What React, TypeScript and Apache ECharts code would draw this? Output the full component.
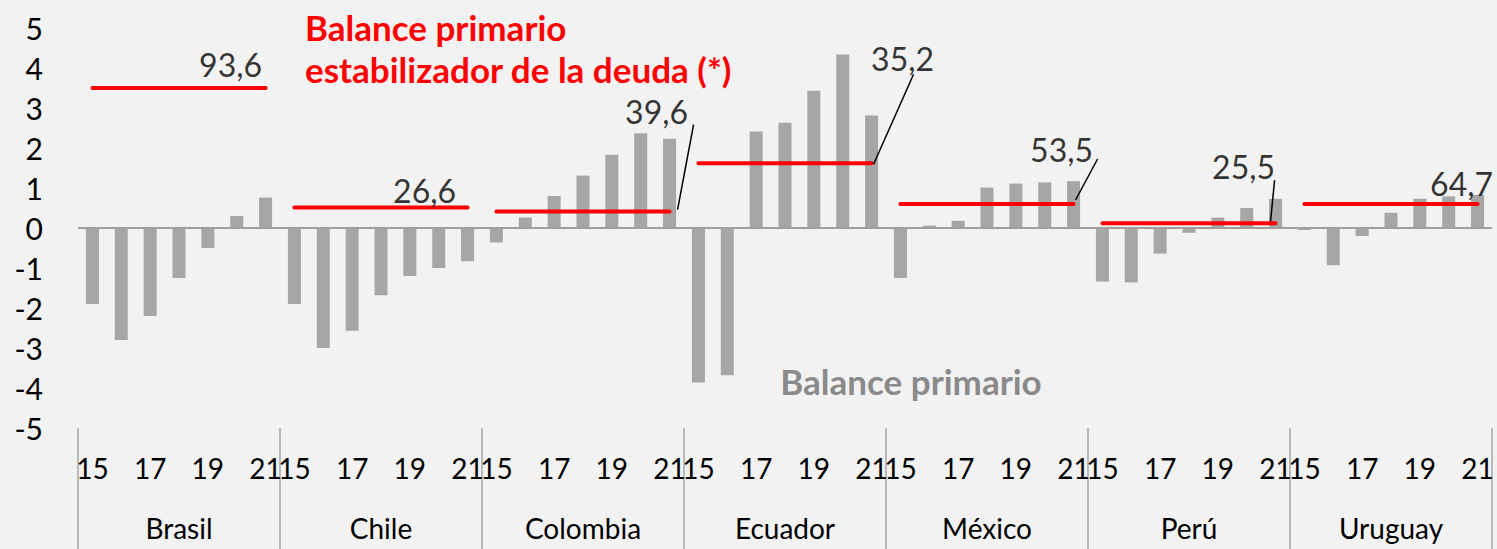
import React, { useEffect, useRef } from "react";
import * as echarts from "echarts";

const countries = ["Brasil", "Chile", "Colombia", "Ecuador", "México", "Perú", "Uruguay"];
const years = ["15", "16", "17", "18", "19", "20", "21"];

const brasil = [-1.9, -2.8, -2.2, -1.25, -0.5, 0.3, 0.76];
const chile = [-1.9, -3.0, -2.57, -1.68, -1.2, -1.0, -0.83];
const colombia = [-0.36, 0.26, 0.8, 1.31, 1.83, 2.37, 2.23];
const ecuador = [-3.86, -3.68, 2.41, 2.63, 3.43, 4.34, 2.81];
const mexico = [-1.25, 0.06, 0.18, 1.01, 1.11, 1.14, 1.17];
const peru = [-1.34, -1.36, -0.64, -0.12, 0.26, 0.5, 0.73];
const uruguay = [-0.05, -0.93, -0.2, 0.38, 0.73, 0.79, 0.83];

const stabilizingBalance = [3.5, 0.51, 0.41, 1.62, 0.6, 0.12, 0.6];
const debtLabels = ["93,6", "26,6", "39,6", "35,2", "53,5", "25,5", "64,7"];

const yMin = -5;
const yMax = 5;
const yInterval = 1;

// label placement (style): offset of label centre from the line end
const labelOffsets: [number, number][] = [
  [-35, -24],
  [-43, -17],
  [-13, -100],
  [31, -105],
  [-12, -55],
  [-32, -57],
  [-16, -21],
];
// leader line (style): [startDx, startDy, endDx, endDy] relative to line end, or null
const leaderOffsets: (number[] | null)[] = [
  null,
  null,
  [24, -87, 8, -2],
  [42, -89, 2, 1],
  [24, -45, 2, -4],
  [-1, -43, -5, -2],
  null,
];

const FONT = "Lato, 'Noto Sans', sans-serif";

export default function App() {
  const ref = useRef<HTMLDivElement>(null);

  useEffect(() => {
    if (!ref.current) return;
    const chart = echarts.init(ref.current, undefined, { renderer: "svg" });

    const seriesValues = [brasil, chile, colombia, ecuador, mexico, peru, uruguay];
    const categories: string[] = [];
    const barData: number[] = [];
    countries.forEach((c, i) => {
      years.forEach((y, k) => {
        categories.push(c + "|" + y);
        barData.push(seriesValues[i][k]);
      });
    });
    const n = years.length;
    const endPoints = countries.map((c, i) => [i * n + n - 1, stabilizingBalance[i]]);

    const lineSeries = countries.map((c, i) => ({
      type: "line",
      name: "stab-" + c,
      xAxisIndex: 0,
      yAxisIndex: 0,
      symbol: "none",
      silent: true,
      z: 5,
      lineStyle: { color: "#ff0000", width: 4, cap: "round" },
      data: categories.map((_, idx) => (Math.floor(idx / n) === i ? stabilizingBalance[i] : null)),
    }));

    const labelSeries = {
      type: "scatter",
      xAxisIndex: 0,
      yAxisIndex: 0,
      symbolSize: 0,
      silent: true,
      z: 6,
      data: countries.map((c, i) => ({ value: endPoints[i], name: debtLabels[i] })),
      label: {
        show: true,
        position: "inside",
        formatter: (p: any) => p.name,
        color: "#000",
        fontFamily: FONT,
        fontSize: 32,
        align: "center",
        verticalAlign: "middle",
      },
      labelLayout: (params: any) => ({
        dx: labelOffsets[params.dataIndex][0],
        dy: labelOffsets[params.dataIndex][1],
        hideOverlap: false,
      }),
    };

    const leaderSeries = {
      type: "custom",
      xAxisIndex: 0,
      yAxisIndex: 0,
      silent: true,
      z: 7,
      data: endPoints,
      renderItem: (params: any, api: any) => {
        const o = leaderOffsets[params.dataIndex];
        if (!o) return null;
        const p = api.coord([api.value(0), api.value(1)]);
        return {
          type: "line",
          shape: { x1: p[0] + o[0], y1: p[1] + o[1], x2: p[0] + o[2], y2: p[1] + o[3] },
          style: { stroke: "#000", lineWidth: 1.5 },
        };
      },
    };

    chart.setOption({
      animation: false,
      backgroundColor: "#f2f2f2",
      grid: { left: 78, right: 5, top: 28, bottom: 121, containLabel: false },
      xAxis: [
        {
          type: "category",
          data: categories,
          position: "bottom",
          axisLine: { show: false, onZero: false },
          axisTick: { show: false },
          axisLabel: {
            interval: (idx: number) => (idx % n) % 2 === 0,
            formatter: (v: string) => v.split("|")[1],
            fontFamily: FONT,
            fontSize: 28,
            color: "#000",
            margin: 26,
          },
          splitLine: { show: false },
        },
        {
          type: "category",
          data: countries,
          position: "bottom",
          axisLine: { show: false, onZero: false },
          axisTick: { show: true, length: 121, lineStyle: { color: "#a6a6a6", width: 1.5 } },
          axisLabel: {
            fontFamily: FONT,
            fontSize: 28,
            color: "#000",
            margin: 86,
          },
          splitLine: { show: false },
        },
      ],
      yAxis: {
        type: "value",
        min: yMin,
        max: yMax,
        interval: yInterval,
        axisLine: { show: false },
        axisTick: { show: false },
        splitLine: { show: false },
        axisLabel: { fontFamily: FONT, fontSize: 30, color: "#000", margin: 35 },
      },
      series: [
        {
          type: "bar",
          name: "Balance primario",
          xAxisIndex: 0,
          yAxisIndex: 0,
          barWidth: 13,
          itemStyle: { color: "#a6a6a6" },
          data: barData,
          z: 2,
          markLine: {
            silent: true,
            symbol: "none",
            label: { show: false },
            lineStyle: { color: "#a0a0a0", width: 2, type: "solid" },
            data: [{ yAxis: 0 }],
          },
        },
        ...lineSeries,
        labelSeries,
        leaderSeries,
      ],
      graphic: [
        {
          type: "text",
          left: 305,
          top: 6,
          style: {
            text: "Balance primario\nestabilizador de la deuda (*)",
            fill: "#ff0000",
            fontFamily: FONT,
            fontWeight: "bold",
            fontSize: 35,
            lineHeight: 42,
          },
        },
        {
          type: "text",
          x: 911,
          y: 381,
          style: {
            text: "Balance primario",
            fill: "#8a8a8a",
            fontFamily: FONT,
            fontWeight: "bold",
            fontSize: 35,
            textAlign: "center",
            textVerticalAlign: "middle",
          },
        },
      ],
    });

    return () => chart.dispose();
  }, []);

  return (
    <div
      ref={ref}
      style={{ position: "fixed", left: 0, top: 0, width: 1497, height: 549 }}
    />
  );
}
